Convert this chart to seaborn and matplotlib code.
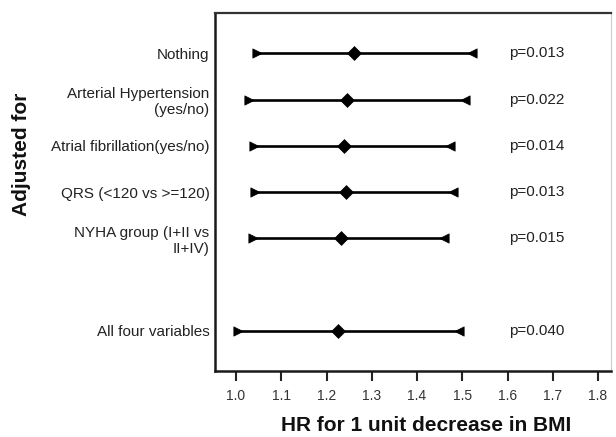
import matplotlib
matplotlib.use("Agg")
import matplotlib.pyplot as plt
import seaborn as sns
import pandas as pd

# ---- data ----
categories = [
    "Nothing",
    "Arterial Hypertension\n(yes/no)",
    "Atrial fibrillation(yes/no)",
    "QRS (<120 vs >=120)",
    "NYHA group (I+II vs\nII+IV)",
    "All four variables",
]
hr = [1.261, 1.245, 1.239, 1.242, 1.231, 1.225]
ci_low = [1.047, 1.029, 1.040, 1.042, 1.038, 1.005]
ci_high = [1.521, 1.506, 1.473, 1.480, 1.460, 1.492]
p_values = ["p=0.013", "p=0.022", "p=0.014", "p=0.013", "p=0.015", "p=0.040"]
xticks = [1.0, 1.1, 1.2, 1.3, 1.4, 1.5, 1.6, 1.7, 1.8]

# row layout (gap before the last row)
row_pos = [0, 1, 2, 3, 4, 6]

df = pd.DataFrame({"cat": categories, "hr": hr, "lo": ci_low, "hi": ci_high,
                   "p": p_values, "y": row_pos})

sns.set_theme(style="white")
plt.rcParams["font.family"] = ["Liberation Sans", "DejaVu Sans"]

fig = plt.figure(figsize=(6.16, 4.37), dpi=100)
W, H = 616, 437
L, R, T, B = 215, 611, 13.3, 370.7
ax = fig.add_axes([L / W, 1 - B / H, (R - L) / W, (B - T) / H])

# CI lines
ax.hlines(df["y"], df["lo"], df["hi"], color="black", lw=1.9, zorder=2)
# caps
sns.scatterplot(data=df, x="lo", y="y", marker=">", s=45, color="black",
                edgecolor="black", linewidth=0.5, ax=ax, zorder=3)
sns.scatterplot(data=df, x="hi", y="y", marker="<", s=45, color="black",
                edgecolor="black", linewidth=0.5, ax=ax, zorder=3)
# point estimates
sns.scatterplot(data=df, x="hr", y="y", marker="D", s=50, color="black",
                edgecolor="black", linewidth=0.5, ax=ax, zorder=4)

# p-values
for yy, p in zip(df["y"], df["p"]):
    ax.text(1.603, yy, p, ha="left", va="center", fontsize=11, color="#222222")

ax.set_xlim(0.9536, 1.8287)
ax.set_ylim(6.86, -0.864)
ax.set_xticks(xticks)
ax.set_xticklabels([f"{v:.1f}" for v in xticks], fontsize=10, color="#333333")
ax.set_yticks(row_pos)
ax.set_yticklabels(categories, fontsize=11, color="#222222", multialignment="right")

ax.tick_params(axis="x", bottom=True, top=False, length=7, width=1.5,
               color="#222222", direction="out", pad=6)
ax.tick_params(axis="y", left=False, length=0, pad=4)

for side in ["left", "bottom"]:
    ax.spines[side].set_color("#1a1a1a")
    ax.spines[side].set_linewidth(1.8)
ax.spines["top"].set_color("#333333")
ax.spines["top"].set_linewidth(1.6)
ax.spines["right"].set_color("#cccccc")
ax.spines["right"].set_linewidth(0.8)

ax.set_xlabel("HR for 1 unit decrease in BMI", fontsize=15, fontweight="bold",
              color="#111111")
ax.xaxis.set_label_coords((426.5 - L) / (R - L), (B - 416) / (B - T))
ax.set_ylabel("Adjusted for", fontsize=15, fontweight="bold", color="#111111")
ax.yaxis.set_label_coords((31 - L) / (R - L), (B - 154) / (B - T))

fig.savefig("out.png", dpi=100)
